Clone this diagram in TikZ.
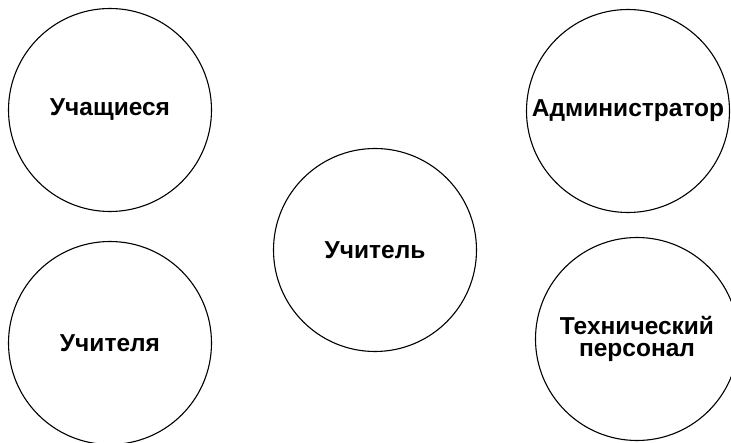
\documentclass[tikz,border=0pt]{standalone}
\usepackage{fontspec}
\setmainfont{Liberation Sans}

\begin{document}
\begin{tikzpicture}[
x=1pt, y=-1pt,
font=\bfseries\fontsize{24.5}{22}\selectfont,
role/.style={draw, circle, line width=1.1pt, minimum size=203pt, inner sep=0pt, align=center}
]
\useasboundingbox (0,0) rectangle (731,443);
\node[role] (students) at (110,110) {Учащиеся};
\node[role] (admin) at (628,111) {Администратор};
\node[role] (teacher) at (375,250) {Учитель};
\node[role] (teachers) at (110,343) {Учителя};
\node[role] (staff) at (637,339) {Технический\\персонал};
\end{tikzpicture}
\end{document}
